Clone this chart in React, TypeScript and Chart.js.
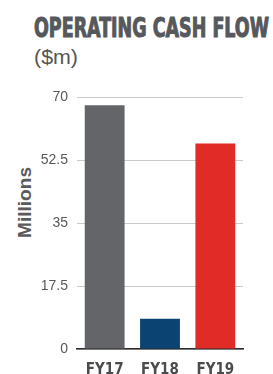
import React, { useEffect, useRef } from "react";
import { Chart, registerables } from "chart.js";

Chart.register(...registerables);

const categories = ["FY17", "FY18", "FY19"];
const cashFlow = [67.8, 8.4, 57.2];
const barColors = ["#646569", "#0b4472", "#e12b26"];
const yTickValues = [0, 17.5, 35, 52.5, 70];
const yTickLabels = ["0", "17.5", "35", "52.5", "70"];
const titleText = "OPERATING CASH FLOW";
const unitText = "($m)";
const yAxisTitle = "Millions";

export default function App() {
  const canvasRef = useRef<HTMLCanvasElement | null>(null);

  useEffect(() => {
    if (!canvasRef.current) return;
    const chart = new Chart(canvasRef.current, {
      type: "bar",
      data: {
        labels: categories,
        datasets: [
          {
            data: cashFlow,
            backgroundColor: barColors,
            borderWidth: 0,
            barPercentage: 0.72,
            categoryPercentage: 1,
          },
        ],
      },
      options: {
        animation: false,
        responsive: false,
        maintainAspectRatio: false,
        layout: { padding: { top: 12, right: 30, left: 0, bottom: 0 } },
        plugins: {
          legend: { display: false },
          tooltip: { enabled: false },
          title: { display: false },
        },
        scales: {
          x: {
            grid: { display: false, drawTicks: false },
            border: { display: true, color: "#2a2a2a", width: 1.5 },
            ticks: {
              padding: 12,
              color: "#4a4b4d",
              font: { family: "'DejaVu Sans Condensed', 'DejaVu Sans'", weight: "bold", size: 15 },
            },
            afterFit: (scale: any) => {
              scale.height = 41;
            },
          },
          y: {
            min: 0,
            max: 70,
            afterBuildTicks: (scale: any) => {
              scale.ticks = yTickValues.map((v) => ({ value: v }));
            },
            grid: { color: "#c9c9c9", lineWidth: 1, drawTicks: false },
            border: { display: false },
            ticks: {
              padding: 9,
              color: "#595959",
              font: { family: "Liberation Sans", size: 14 },
              callback: (value: any) => {
                const i = yTickValues.indexOf(Number(value));
                return i >= 0 ? yTickLabels[i] : "";
              },
            },
            afterFit: (scale: any) => {
              scale.width = 77;
            },
          },
        },
      },
    });
    return () => chart.destroy();
  }, []);

  return (
    <div style={{ position: "absolute", left: 0, top: 0, width: 273, height: 374, overflow: "hidden", background: "#fff" }}>
      <svg width={273} height={374} style={{ position: "absolute", left: 0, top: 0 }}>
        <text
          x={34}
          y={37}
          fill="#55585c"
          stroke="#55585c"
          strokeWidth={1}
          fontFamily="'DejaVu Sans Condensed', 'DejaVu Sans'"
          fontWeight="bold"
          fontSize={26}
          textLength={235}
          lengthAdjust="spacingAndGlyphs"
        >
          {titleText}
        </text>
        <text
          x={34}
          y={64}
          fill="#555555"
          fontFamily="'Liberation Sans', Arial"
          fontSize={21}
          textLength={44}
          lengthAdjust="spacingAndGlyphs"
        >
          {unitText}
        </text>
        <text
          transform="translate(24,202.5) rotate(-90)"
          x={0}
          y={7}
          textAnchor="middle"
          fill="#5a5a5c"
          fontFamily="'Liberation Sans', Arial"
          fontWeight="bold"
          fontSize={19}
          textLength={71}
          lengthAdjust="spacingAndGlyphs"
        >
          {yAxisTitle}
        </text>
      </svg>
      <div style={{ position: "absolute", left: 0, top: 80, width: 273, height: 310 }}>
        <canvas ref={canvasRef} width={273} height={310} style={{ display: "block", width: 273, height: 310 }} />
      </div>
    </div>
  );
}
